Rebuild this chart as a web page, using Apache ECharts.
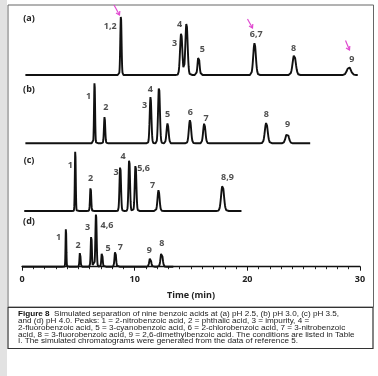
<!DOCTYPE html>
<html>
<head>
<meta charset="utf-8">
<script src="https://cdn.jsdelivr.net/npm/echarts@6/dist/echarts.min.js"></script>
<style>
html, body { margin: 0; padding: 0; background: #fff; }
#main { width: 378px; height: 376px; }
</style>
</head>
<body>
<div id="main"></div>
<script>
// peaks: [retention time (min), height, width sigma (min)]
const peaksA = [[8.78, 59, 0.055], [14.13, 42, 0.1], [14.6, 52, 0.1], [15.67, 19, 0.085],
    [20.64, 32, 0.115], [24.16, 20, 0.14], [29.02, 8, 0.17]];
const peaksB = [[6.44, 61.6, 0.045], [7.33, 26.6, 0.055], [11.41, 46.6, 0.075], [12.16, 56.6, 0.08],
    [12.92, 20, 0.09], [14.91, 23.3, 0.1], [16.18, 20, 0.1], [21.68, 20.6, 0.125], [23.54, 10, 0.14]];
const peaksC = [[4.73, 61, 0.04], [6.09, 24.5, 0.05], [8.72, 45.5, 0.065], [9.52, 52.7, 0.065],
    [10.08, 46.7, 0.07], [12.12, 21, 0.09], [17.8, 26, 0.125]];
const peaksD = [[3.9, 39, 0.035], [5.15, 15, 0.045], [6.15, 32, 0.05], [6.57, 53, 0.055],
    [7.1, 15, 0.055], [8.28, 16, 0.065], [11.38, 9, 0.08], [12.39, 15, 0.09]];

// run start / end of each trace (min)
const runStart = [0.3, 0.3, 0.2, 0.0];
const runEnd = [29.84, 25.64, 19.52, 13.45];

// peak labels: [time, height, text]
const labelsA = [[7.83, 49, '1,2'], [13.55, 32, '3'], [13.98, 51, '4'], [16.0, 26, '5'],
    [20.79, 41, '6,7'], [24.1, 27, '8'], [29.28, 16, '9']];
const labelsB = [[5.91, 47, '1'], [7.45, 36, '2'], [10.88, 38, '3'], [11.38, 54, '4'], [12.92, 29, '5'],
    [14.93, 31, '6'], [16.33, 25, '7'], [21.68, 29, '8'], [23.57, 19, '9']];
const labelsC = [[4.29, 46, '1'], [6.09, 33, '2'], [8.34, 39, '3'], [8.96, 55, '4'],
    [10.79, 43, '5,6'], [11.59, 26, '7'], [18.24, 34, '8,9']];
const labelsD = [[3.25, 29, '1'], [4.97, 21, '2'], [5.82, 39, '3'], [7.54, 41, '4,6'],
    [7.63, 18, '5'], [8.72, 19, '7'], [11.3, 16, '9'], [12.42, 23, '8']];

const panelNames = ['(a)', '(b)', '(c)', '(d)'];
const xTicks = [0, 10, 20, 30];

const captionLines = [
    ['Figure 8', '  Simulated separation of nine benzoic acids at (a) pH 2.5, (b) pH 3.0, (c) pH 3.5,'],
    ['', 'and (d) pH 4.0. Peaks: 1 = 2-nitrobenzoic acid, 2 = phthalic acid, 3 = impurity, 4 ='],
    ['', '2-fluorobenzoic acid, 5 = 3-cyanobenzoic acid, 6 = 2-chlorobenzoic acid, 7 = 3-nitrobenzoic'],
    ['', 'acid, 8 = 3-fluorobenzoic acid, 9 = 2,6-dimethylbenzoic acid. The conditions are listed in Table'],
    ['', 'I. The simulated chromatograms were generated from the data of reference 5.']
];

// sum of gaussian peaks over the run
function trace(peaks, start, end) {
    const pts = [];
    for (let t = start; t <= end + 1e-9; t += 0.01) {
        let y = 0;
        peaks.forEach(p => {
            y += p[1] * Math.exp(-((t - p[0]) ** 2) / (2 * p[2] * p[2]));
        });
        pts.push([+t.toFixed(2), y]);
    }
    return pts;
}

const allPeaks = [peaksA, peaksB, peaksC, peaksD];
const allLabels = [labelsA, labelsB, labelsC, labelsD];
const gridTops = [13, 81.3, 149, 204.7];
const panelLabelY = [18.3, 89.3, 160.7, 221];

const font = '"Open Sans", "DejaVu Sans", sans-serif';
const capFont = '"Liberation Sans", Arial, sans-serif';

const chart = echarts.init(document.getElementById('main'));

const grids = gridTops.map(top => ({ left: 22, right: 18, top: top, height: 62 }));
const xAxes = gridTops.map((_, i) => {
    const last = i === gridTops.length - 1;
    return {
        gridIndex: i, type: 'value', min: xTicks[0], max: xTicks[xTicks.length - 1], interval: 10,
        show: last,
        offset: 2,
        axisLine: { lineStyle: { color: '#111', width: 1.4 } },
        axisTick: { show: true, length: 4, lineStyle: { color: '#111', width: 1 } },
        minorTick: { show: true, splitNumber: 10, length: 2.5, lineStyle: { color: '#222', width: 1 } },
        splitLine: { show: false },
        axisLabel: { color: '#222', fontSize: 9, fontWeight: 'bold', fontFamily: font, margin: 6 },
        name: last ? 'Time (min)' : '',
        nameLocation: 'middle', nameGap: 22,
        nameTextStyle: { color: '#222', fontSize: 9, fontWeight: 'bold', fontFamily: font }
    };
});
const yAxes = gridTops.map((_, i) => ({ gridIndex: i, type: 'value', min: 0, max: 62, show: false }));

const series = [];
allPeaks.forEach((peaks, i) => {
    series.push({
        type: 'line', xAxisIndex: i, yAxisIndex: i,
        data: trace(peaks, runStart[i], runEnd[i]),
        showSymbol: false, symbol: 'none', clip: false,
        lineStyle: { color: '#111', width: 1.9 }
    });
    series.push({
        type: 'scatter', xAxisIndex: i, yAxisIndex: i,
        data: allLabels[i], symbolSize: 1, itemStyle: { color: 'rgba(0,0,0,0)' },
        label: {
            show: true, position: 'inside', formatter: p => p.value[2],
            color: '#222', fontSize: 9, fontWeight: 'bold', fontFamily: font
        }
    });
});

const graphic = [
    { type: 'rect', shape: { x: 0, y: 0, width: 7, height: 376 }, style: { fill: '#e2e2e2' } },
    { type: 'rect', shape: { x: 8, y: 5, width: 365.5, height: 302 }, style: { fill: 'none', stroke: '#666', lineWidth: 1 } },
    { type: 'rect', shape: { x: 8, y: 307.5, width: 365, height: 41 }, style: { fill: 'none', stroke: '#333', lineWidth: 1.2 } }
];
panelNames.forEach((n, i) => {
    graphic.push({
        type: 'text', x: 29, y: panelLabelY[i],
        style: { text: n, fill: '#222', font: 'bold 9px ' + font, align: 'center', verticalAlign: 'middle' }
    });
});
captionLines.forEach((ln, i) => {
    graphic.push({
        type: 'text', x: 18, y: 314.6 + i * 6.75, scaleX: 1.25,
        style: {
            text: (ln[0] ? '{b|' + ln[0] + '}' : '') + ln[1],
            fill: '#222', font: '6.5px ' + capFont, verticalAlign: 'middle',
            rich: { b: { fontWeight: 'bold', fontSize: 6.5, fontFamily: capFont, fill: '#111' } }
        }
    });
});
// pink hand-drawn arrows
[[114, 5, 119.5, 15], [247.5, 19, 252.5, 28], [345.5, 40.5, 349.5, 50]].forEach(a => {
    graphic.push({ type: 'line', shape: { x1: a[0], y1: a[1], x2: a[2], y2: a[3] }, style: { stroke: '#e04ad0', lineWidth: 1.2 } });
    graphic.push({
        type: 'polyline', shape: { points: [[a[2] - 3.5, a[3] - 2], [a[2], a[3]], [a[2] + 0.3, a[3] - 4]] },
        style: { stroke: '#e04ad0', lineWidth: 1.2, fill: 'none' }
    });
});

chart.setOption({
    animation: false,
    backgroundColor: '#fff',
    grid: grids,
    xAxis: xAxes,
    yAxis: yAxes,
    series: series,
    graphic: graphic
});
</script>
</body>
</html>
